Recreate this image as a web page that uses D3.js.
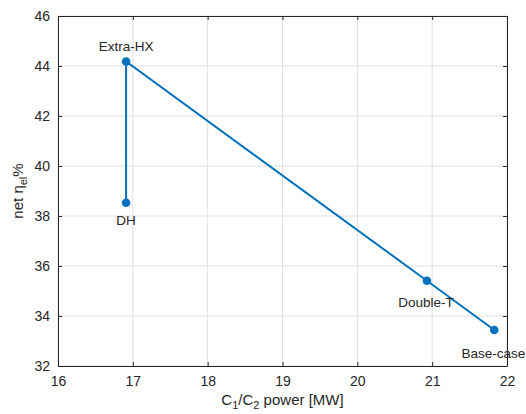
<!DOCTYPE html>
<html>
<head>
<meta charset="utf-8">
<script src="https://cdn.jsdelivr.net/npm/d3@7"></script>
<style>
  body { margin: 0; background: #fff; }
  text { font-family: "Liberation Sans", Arial, sans-serif; fill: #262626; }
</style>
</head>
<body>
<svg id="chart" width="526" height="414"></svg>
<script>
// cases in line order
const caseNames = ['DH', 'Extra-HX', 'Double-T', 'Base-case'];
const powerMW = [16.91, 16.91, 20.93, 21.83];
const netEff = [38.53, 44.18, 35.41, 33.44];
const xTicks = [16, 17, 18, 19, 20, 21, 22];
const yTicks = [32, 34, 36, 38, 40, 42, 44, 46];

const svg = d3.select('#chart');
const MARGIN = { top: 16, left: 58, right: 19, bottom: 48 };
const width = 526 - MARGIN.left - MARGIN.right;
const height = 414 - MARGIN.top - MARGIN.bottom;
const g = svg.append('g')
  .attr('transform', `translate(${MARGIN.left},${MARGIN.top})`);

const x = d3.scaleLinear().domain([16, 22]).range([0, width]);
const y = d3.scaleLinear().domain([32, 46]).range([height, 0]);

// grid
g.append('g').selectAll('line').data(xTicks).join('line')
  .attr('x1', d => x(d)).attr('x2', d => x(d))
  .attr('y1', 0).attr('y2', height)
  .attr('stroke', '#dfdfdf').attr('stroke-width', 1);
g.append('g').selectAll('line').data(yTicks).join('line')
  .attr('y1', d => y(d)).attr('y2', d => y(d))
  .attr('x1', 0).attr('x2', width)
  .attr('stroke', '#dfdfdf').attr('stroke-width', 1);

// axes
const fmt = d3.format('d');
g.append('g')
  .attr('transform', `translate(0,${height})`)
  .call(d3.axisBottom(x).tickValues(xTicks).tickFormat(fmt).tickSizeInner(-4).tickSizeOuter(0).tickPadding(10));
g.append('g')
  .call(d3.axisLeft(y).tickValues(yTicks).tickFormat(fmt).tickSizeInner(-4).tickSizeOuter(0).tickPadding(8));
g.append('g')
  .call(d3.axisTop(x).tickValues(xTicks).tickSizeInner(-4).tickSizeOuter(0).tickFormat(''));
g.append('g')
  .attr('transform', `translate(${width},0)`)
  .call(d3.axisRight(y).tickValues(yTicks).tickSizeInner(-4).tickSizeOuter(0).tickFormat(''));
g.selectAll('.domain, .tick line').attr('stroke', '#262626');
g.selectAll('.tick text').attr('font-size', 14).attr('fill', '#262626')
  .attr('font-family', '"Liberation Sans", Arial, sans-serif');

// data
const pts = caseNames.map((n, i) => ({ name: n, x: powerMW[i], y: netEff[i] }));
const line = d3.line().x(d => x(d.x)).y(d => y(d.y));
g.append('path').datum(pts)
  .attr('d', line)
  .attr('fill', 'none')
  .attr('stroke', '#0072BD')
  .attr('stroke-width', 2);
g.selectAll('circle.pt').data(pts).join('circle')
  .attr('class', 'pt')
  .attr('cx', d => x(d.x)).attr('cy', d => y(d.y))
  .attr('r', 4.3)
  .attr('fill', '#0072BD');

// point labels
const labelOffset = { 'DH': [0, 22], 'Extra-HX': [0, -11], 'Double-T': [-1, 26], 'Base-case': [-1, 28] };
g.selectAll('text.lbl').data(pts).join('text')
  .attr('class', 'lbl')
  .attr('x', d => x(d.x) + labelOffset[d.name][0])
  .attr('y', d => y(d.y) + labelOffset[d.name][1])
  .attr('text-anchor', 'middle')
  .attr('font-size', 13.5)
  .text(d => d.name);

// axis labels
const xl = svg.append('text')
  .attr('x', MARGIN.left + width / 2)
  .attr('y', 405)
  .attr('text-anchor', 'middle')
  .attr('font-size', 15);
xl.append('tspan').text('C');
xl.append('tspan').attr('font-size', 11).attr('dy', 4).text('1');
xl.append('tspan').attr('dy', -4).text('/C');
xl.append('tspan').attr('font-size', 11).attr('dy', 4).text('2');
xl.append('tspan').attr('dy', -4).text(' power [MW]');

const yl = svg.append('text')
  .attr('transform', `translate(23,${MARGIN.top + height / 2}) rotate(-90)`)
  .attr('text-anchor', 'middle')
  .attr('font-size', 15);
yl.append('tspan').text('net η');
yl.append('tspan').attr('font-size', 11).attr('dy', 4).text('el');
yl.append('tspan').attr('dy', -4).text('%');
</script>
</body>
</html>
